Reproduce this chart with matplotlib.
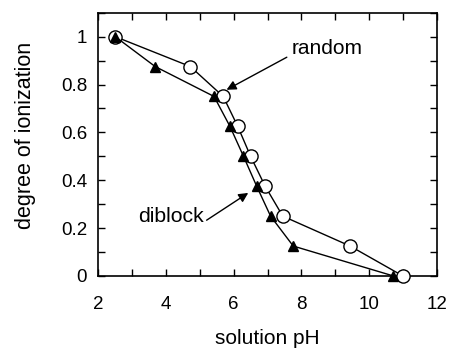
import numpy as np
import matplotlib.pyplot as plt
from matplotlib.ticker import MultipleLocator

plt.rcParams['font.family'] = ['Liberation Sans', 'DejaVu Sans']

# random copolymer (open circles)
ph_random = [2.5, 4.72, 5.69, 6.12, 6.5, 6.93, 7.45, 9.44, 11.0]
ion_random = [1.0, 0.875, 0.75, 0.625, 0.5, 0.375, 0.25, 0.125, 0.0]

# diblock copolymer (filled triangles)
ph_diblock = [2.5, 3.68, 5.42, 5.89, 6.29, 6.68, 7.09, 7.76, 10.72]
ion_diblock = [1.0, 0.875, 0.75, 0.625, 0.5, 0.375, 0.25, 0.125, 0.0]

fig = plt.figure(figsize=(4.5, 3.48), dpi=100)
ax = fig.add_axes([0.2185, 0.207, 0.752, 0.7565])

ax.plot(ph_random, ion_random, '-o', color='black', lw=1.0,
        markerfacecolor='white', markeredgecolor='black', markersize=9.5,
        markeredgewidth=1.0, clip_on=False, zorder=3)
ax.plot(ph_diblock, ion_diblock, '-^', color='black', lw=1.0,
        markersize=6.5, clip_on=False, zorder=4)

ax.set_xlim(2, 12)
ax.set_ylim(0, 1.1)
ax.xaxis.set_major_locator(MultipleLocator(2))
ax.xaxis.set_minor_locator(MultipleLocator(1))
ax.yaxis.set_minor_locator(MultipleLocator(0.1))
ax.set_yticks([0, 0.2, 0.4, 0.6, 0.8, 1.0])
ax.set_yticklabels(['0', '0.2', '0.4', '0.6', '0.8', '1'])

ax.tick_params(which='both', direction='in', top=True, right=True,
               length=5, width=1.0, labelsize=13.5)
ax.tick_params(axis='x', which='both', pad=14.5)
ax.tick_params(axis='y', which='both', pad=8)
for s in ax.spines.values():
    s.set_linewidth(1.2)

ax.set_xlabel('solution pH', fontsize=15, labelpad=11.5)
ax.set_ylabel('degree of ionization', fontsize=15.5, va='center')
ax.yaxis.set_label_coords(-0.2166, 0.535)

arrow = dict(arrowstyle='-|>', color='black', lw=1.0, mutation_scale=14,
             shrinkA=0, shrinkB=0)
ax.annotate('', xy=(5.79, 0.778), xytext=(7.57, 0.914), arrowprops=arrow)
ax.text(7.71, 0.95, 'random', fontsize=15, va='center', ha='left')
ax.annotate('', xy=(6.43, 0.347), xytext=(5.2, 0.233), arrowprops=arrow)
ax.text(3.17, 0.247, 'diblock', fontsize=15.3, va='center', ha='left')

fig.savefig('out.png', dpi=100)
